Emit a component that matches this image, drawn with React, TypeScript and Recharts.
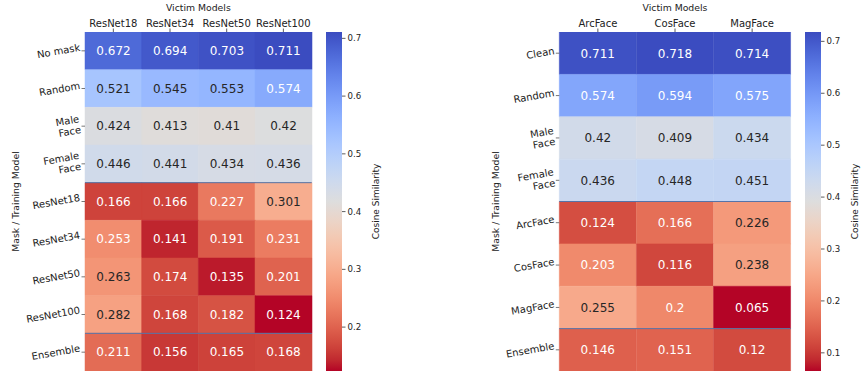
import React from "react";
import { BarChart, Bar, XAxis, YAxis, Cell, LabelList, ReferenceLine } from "recharts";

// left panel: ResNet victims
const leftVictims = ["ResNet18", "ResNet34", "ResNet50", "ResNet100"];
const leftMasks = ["No mask", "Random", "Male\nFace", "Female\nFace", "ResNet18", "ResNet34", "ResNet50", "ResNet100", "Ensemble"];
const leftValues = [
  [0.672, 0.694, 0.703, 0.711],
  [0.521, 0.545, 0.553, 0.574],
  [0.424, 0.413, 0.41, 0.42],
  [0.446, 0.441, 0.434, 0.436],
  [0.166, 0.166, 0.227, 0.301],
  [0.253, 0.141, 0.191, 0.231],
  [0.263, 0.174, 0.135, 0.201],
  [0.282, 0.168, 0.182, 0.124],
  [0.211, 0.156, 0.165, 0.168],
];
const leftSeparators = [4, 8];
const leftColorTicks = [0.2, 0.3, 0.4, 0.5, 0.6, 0.7];

// right panel: face recognition victims
const rightVictims = ["ArcFace", "CosFace", "MagFace"];
const rightMasks = ["Clean", "Random", "Male\nFace", "Female\nFace", "ArcFace", "CosFace", "MagFace", "Ensemble"];
const rightValues = [
  [0.711, 0.718, 0.714],
  [0.574, 0.594, 0.575],
  [0.42, 0.409, 0.434],
  [0.436, 0.448, 0.451],
  [0.124, 0.166, 0.226],
  [0.203, 0.116, 0.238],
  [0.255, 0.2, 0.065],
  [0.146, 0.151, 0.12],
];
const rightSeparators = [4, 7];
const rightColorTicks = [0.1, 0.2, 0.3, 0.4, 0.5, 0.6, 0.7];

// coolwarm anchors (position, r, g, b)
const COOLWARM: number[][] = [
  [0.0, 59, 76, 192], [0.03125, 68, 90, 204], [0.0625, 77, 104, 215], [0.09375, 87, 117, 225],
  [0.125, 98, 130, 234], [0.15625, 108, 142, 241], [0.1875, 119, 154, 247], [0.21875, 130, 165, 251],
  [0.25, 141, 176, 254], [0.28125, 152, 185, 255], [0.3125, 163, 194, 255], [0.34375, 174, 201, 253],
  [0.375, 184, 208, 249], [0.40625, 194, 213, 244], [0.4375, 204, 217, 238], [0.46875, 213, 219, 230],
  [0.5, 221, 221, 221], [0.53125, 229, 216, 209], [0.5625, 236, 211, 197], [0.59375, 241, 204, 184],
  [0.625, 245, 196, 172], [0.65625, 247, 187, 160], [0.6875, 247, 177, 148], [0.71875, 247, 166, 135],
  [0.75, 244, 154, 123], [0.78125, 241, 141, 111], [0.8125, 236, 127, 99], [0.84375, 229, 112, 88],
  [0.875, 222, 96, 77], [0.90625, 213, 80, 66], [0.9375, 203, 62, 56], [0.96875, 192, 40, 47],
  [1.0, 180, 4, 38],
];

const FONT = "'DejaVu Sans', sans-serif";
const TEXT = "#222";
const CHART_H = 371;
const TOP = 32;

function coolwarmRgb(t: number): number[] {
  const x = Math.min(1, Math.max(0, t));
  for (let k = 1; k < COOLWARM.length; k++) {
    const a = COOLWARM[k - 1];
    const b = COOLWARM[k];
    if (x <= b[0]) {
      const f = (x - a[0]) / (b[0] - a[0]);
      return [1, 2, 3].map((c) => a[c] + (b[c] - a[c]) * f);
    }
  }
  return COOLWARM[COOLWARM.length - 1].slice(1);
}

// reversed colormap: high similarity is blue
function cellRgb(v: number, vmin: number, vmax: number) {
  return coolwarmRgb(1 - (v - vmin) / (vmax - vmin));
}

function toCss(rgb: number[]) {
  return `rgb(${rgb.map((c) => Math.round(c)).join(",")})`;
}

function luminance(rgb: number[]) {
  const lin = rgb.map((c) => {
    const s = c / 255;
    return s <= 0.03928 ? s / 12.92 : Math.pow((s + 0.055) / 1.055, 2.4);
  });
  return 0.2126 * lin[0] + 0.7152 * lin[1] + 0.0722 * lin[2];
}

function RowTick(props: any) {
  const { x, y, payload, labels } = props;
  const lines: string[] = labels[Math.floor(payload.value)].split("\n");
  const w = Math.max(...lines.map((l) => l.length)) * 6.1;
  const lh = 11;
  const first = -((lines.length - 1) * lh) / 2;
  return (
    <g transform={`translate(${x},${y - w * 0.087}) rotate(-10)`}>
      <text textAnchor="end" fontSize={10} fill={TEXT} fontFamily={FONT}>
        {lines.map((l, k) => (
          <tspan key={k} x={0} y={first + k * lh} dy="0.36em">
            {l}
          </tspan>
        ))}
      </text>
    </g>
  );
}

function Heatmap(props: any) {
  const { cols, rows, values, seps, left, axisW, plotW } = props;
  const flat = values.flat();
  const vmin = Math.min(...flat);
  const vmax = Math.max(...flat);
  const width = 320;
  const data = cols.map((c: string, j: number) => {
    const d: any = { col: c };
    rows.forEach((_: string, i: number) => {
      d[`r${i}`] = 1;
      d[`v${i}`] = values[i][j];
    });
    return d;
  });
  const cx = axisW + plotW / 2;
  const cy = TOP + (CHART_H - TOP) / 2;
  return (
    <div style={{ position: "absolute", left, top: 0 }}>
      <BarChart
        width={width}
        height={CHART_H}
        data={data}
        margin={{ top: 0, right: width - axisW - plotW, bottom: 0, left: 0 }}
        barCategoryGap={0}
        barGap={0}
      >
        <XAxis
          dataKey="col"
          orientation="top"
          height={TOP}
          axisLine={false}
          interval={0}
          tickSize={3.5}
          tickMargin={2}
          tickLine={{ stroke: "#333", strokeWidth: 0.8 }}
          tick={{ fontSize: 10, fill: TEXT }}
          label={{
            content: () => (
              <text x={cx} y={11} textAnchor="middle" fontSize={9.3} fill={TEXT} fontFamily={FONT}>
                Victim Models
              </text>
            ),
          }}
        />
        <YAxis
          type="number"
          domain={[0, rows.length]}
          reversed
          allowDataOverflow
          ticks={rows.map((_: string, i: number) => i + 0.5)}
          interval={0}
          width={axisW}
          axisLine={false}
          tickSize={3.5}
          tickMargin={1.5}
          tickLine={{ stroke: "#555", strokeWidth: 0.8 }}
          tick={(p: any) => <RowTick {...p} labels={rows} />}
          label={{
            content: () => (
              <text
                x={16}
                y={cy}
                transform={`rotate(-90, 16, ${cy})`}
                textAnchor="middle"
                dy="0.36em"
                fontSize={9.3}
                fill={TEXT}
                fontFamily={FONT}
              >
                Mask / Training Model
              </text>
            ),
          }}
        />
        {rows.map((_: string, i: number) => (
          <Bar key={i} dataKey={`r${i}`} stackId="cells" isAnimationActive={false}>
            {cols.map((_c: string, j: number) => {
              const fill = toCss(cellRgb(values[i][j], vmin, vmax));
              return <Cell key={j} fill={fill} stroke={fill} strokeWidth={0.5} />;
            })}
            <LabelList
              dataKey={`v${i}`}
              content={(p: any) => {
                const v = Number(p.value);
                const rgb = cellRgb(v, vmin, vmax);
                const color = luminance(rgb) > 0.414 ? "#262626" : "#ffffff";
                return (
                  <text
                    x={p.x + p.width / 2}
                    y={p.y + p.height / 2}
                    dy="0.36em"
                    textAnchor="middle"
                    fontSize={12}
                    fill={color}
                    fontFamily={FONT}
                  >
                    {String(v)}
                  </text>
                );
              }}
            />
          </Bar>
        ))}
        {seps.map((s: number) => (
          <ReferenceLine key={s} y={s} stroke="#5673a8" strokeWidth={1} />
        ))}
      </BarChart>
    </div>
  );
}

function Colorbar(props: any) {
  const { values, ticks, left, axisW, labelX, id } = props;
  const flat = values.flat();
  const vmin = Math.min(...flat);
  const vmax = Math.max(...flat);
  const barW = 16;
  const cy = TOP + (CHART_H - TOP) / 2;
  return (
    <div style={{ position: "absolute", left, top: 0 }}>
      <BarChart
        width={barW + axisW}
        height={CHART_H}
        data={[{ k: "cb", range: [vmin, vmax] }]}
        margin={{ top: TOP, right: 0, bottom: 0, left: 0 }}
        barCategoryGap={0}
      >
        <defs>
          <linearGradient id={id} x1="0" y1="0" x2="0" y2="1">
            {COOLWARM.map((s) => (
              <stop key={s[0]} offset={s[0]} stopColor={toCss(s.slice(1))} />
            ))}
          </linearGradient>
        </defs>
        <XAxis dataKey="k" hide />
        <YAxis
          orientation="right"
          type="number"
          domain={[vmin, vmax]}
          allowDataOverflow
          ticks={ticks}
          interval={0}
          width={axisW}
          axisLine={false}
          tickSize={3.5}
          tickMargin={2}
          tickLine={{ stroke: "#333", strokeWidth: 0.8 }}
          tick={{ fontSize: 8.6, fill: TEXT }}
          tickFormatter={(v: number) => v.toFixed(1)}
          label={{
            content: () => (
              <text
                x={labelX}
                y={cy}
                transform={`rotate(-90, ${labelX}, ${cy})`}
                textAnchor="middle"
                dy="0.36em"
                fontSize={9}
                fill={TEXT}
                fontFamily={FONT}
              >
                Cosine Similarity
              </text>
            ),
          }}
        />
        <Bar dataKey="range" fill={`url(#${id})`} isAnimationActive={false} />
      </BarChart>
    </div>
  );
}

export default function App() {
  return (
    <div
      style={{
        position: "absolute",
        left: 0,
        top: 0,
        width: 861,
        height: 371,
        overflow: "hidden",
        background: "#fff",
        fontFamily: FONT,
      }}
    >
      <Heatmap cols={leftVictims} rows={leftMasks} values={leftValues} seps={leftSeparators} left={0} axisW={85} plotW={226.7} />
      <Colorbar values={leftValues} ticks={leftColorTicks} left={326} axisW={60} labelX={50} id="cbLeft" />
      <Heatmap cols={rightVictims} rows={rightMasks} values={rightValues} seps={rightSeparators} left={480} axisW={79.3} plotW={231.4} />
      <Colorbar values={rightValues} ticks={rightColorTicks} left={805} axisW={40} labelX={50} id="cbRight" />
    </div>
  );
}
